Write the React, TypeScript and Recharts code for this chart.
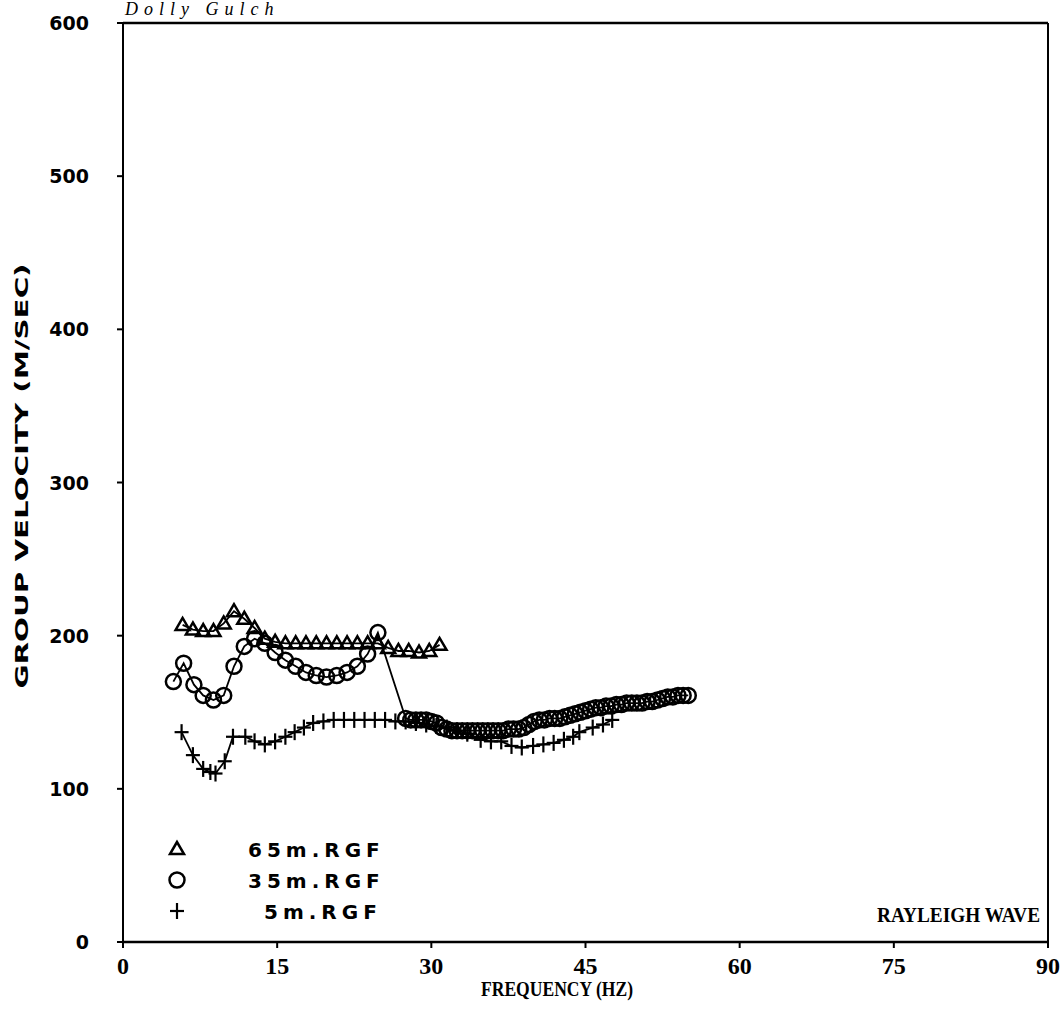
import React from "react";
import { ComposedChart, Scatter, XAxis, YAxis, ReferenceLine } from "recharts";

// 65m.RGF (triangles)
const FREQ_65 = [5.8, 6.8, 7.8, 8.8, 9.8, 10.8, 11.8, 12.8, 13.8, 14.8, 15.8, 16.8, 17.8, 18.8, 19.8, 20.8, 21.8, 22.8, 23.8, 24.8, 25.8, 26.8, 27.8, 28.8, 29.8, 30.8];
const VEL_65 = [207, 204, 203, 203, 208, 216, 211, 205, 198, 196, 195, 195, 195, 195, 195, 195, 195, 195, 195, 195, 192, 190, 190, 189, 190, 194];

// 35m.RGF (circles)
const FREQ_35 = [4.9, 5.9, 6.9, 7.8, 8.8, 9.8, 10.8, 11.8, 12.8, 13.8, 14.8, 15.8, 16.8, 17.8, 18.8, 19.8, 20.8, 21.8, 22.8, 23.8, 24.8,
  27.5, 28, 28.5, 29, 29.5, 30, 30.5, 31, 31.5, 32, 32.5, 33, 33.5, 34, 34.5, 35, 35.5, 36, 36.5, 37, 37.5, 38, 38.5, 39, 39.5,
  40, 40.5, 41, 41.5, 42, 42.5, 43, 43.5, 44, 44.5, 45, 45.5, 46, 46.5, 47, 47.5, 48, 48.5, 49, 49.5, 50, 50.5, 51, 51.5, 52, 52.5, 53, 53.5, 54, 54.5, 55];
const VEL_35 = [170, 182, 168, 161, 158, 161, 180, 193, 198, 195, 189, 184, 180, 176, 174, 173, 174, 176, 180, 188, 202,
  146, 145, 145, 145, 145, 144, 143, 140, 139, 138, 138, 138, 138, 138, 138, 138, 138, 138, 138, 138, 139, 139, 139, 140, 142,
  144, 145, 145, 146, 146, 146, 147, 148, 149, 150, 151, 152, 153, 153, 154, 154, 155, 155, 156, 156, 156, 156, 157, 157, 158, 159, 160, 160, 161, 161, 161];

// 5m.RGF (plus)
const FREQ_5 = [5.7, 6.8, 7.8, 8.5, 9, 9.9, 10.7, 11.9, 12.8, 13.8, 14.8, 15.8, 16.7, 17.6, 18.5, 19.5, 20.5, 21.5, 22.5, 23.5, 24.5, 25.5, 26.5, 27.5,
  28.5, 29.5, 30.5, 31.5, 32.5, 33.5, 34.8, 35.8, 36.8, 37.8, 38.8, 39.9, 40.9, 41.9, 42.9, 43.8, 44.4, 45.7, 46.7, 47.6];
const VEL_5 = [137, 122, 113, 111, 110, 118, 134, 134, 131, 129, 131, 134, 137, 140, 143, 144, 145, 145, 145, 145, 145, 145, 144, 144,
  143, 142, 141, 140, 138, 136, 132, 131, 131, 128, 127, 128, 129, 130, 132, 134, 137, 140, 142, 145];

const X_TICKS = [0, 15, 30, 45, 60, 75, 90];
const Y_TICKS = [0, 100, 200, 300, 400, 500, 600];
const SERIES_NAMES = ["65m.RGF", "35m.RGF", "5m.RGF"];

const toPoints = (fs: number[], vs: number[]) => fs.map((f, i) => ({ f, v: vs[i] }));
const data65 = toPoints(FREQ_65, VEL_65);
const data35 = toPoints(FREQ_35, VEL_35);
const data5 = toPoints(FREQ_5, VEL_5);

const Tri = (p: any) => {
  const { cx, cy } = p;
  if (cx == null || cy == null) return null;
  return <polygon points={`${cx},${cy - 7} ${cx - 7},${cy + 5} ${cx + 7},${cy + 5}`} fill="none" stroke="#000" strokeWidth={2.5} />;
};
const Circ = (p: any) => {
  const { cx, cy } = p;
  if (cx == null || cy == null) return null;
  return <circle cx={cx} cy={cy} r={7.5} fill="none" stroke="#000" strokeWidth={2.5} />;
};
const Plus = (p: any) => {
  const { cx, cy } = p;
  if (cx == null || cy == null) return null;
  return (
    <g stroke="#000" strokeWidth={2.2}>
      <line x1={cx - 7} y1={cy} x2={cx + 7} y2={cy} />
      <line x1={cx} y1={cy - 8} x2={cx} y2={cy + 8} />
    </g>
  );
};

const YTick = (p: any) => {
  const { x, y, payload } = p;
  return (
    <text x={x} y={y} dy={7} textAnchor="end" fontFamily="DejaVu Sans" fontWeight="bold" fontSize={19} fill="#000">
      {payload.value}
    </text>
  );
};
const XTick = (p: any) => {
  const { x, y, payload } = p;
  return (
    <text x={x} y={y} dy={18} textAnchor="middle" fontFamily="Liberation Serif" fontWeight="bold" fontSize={24} fill="#000">
      {payload.value}
    </text>
  );
};

export default function App() {
  const W = 1064;
  const H = 1015;
  return (
    <div style={{ position: "absolute", left: 0, top: 0, width: W, height: H, background: "#fff" }}>
      <ComposedChart width={W} height={H} margin={{ top: 23, right: 16, bottom: 0, left: 0 }}>
        <XAxis
          dataKey="f"
          type="number"
          domain={[0, 90]}
          ticks={X_TICKS}
          interval={0}
          allowDataOverflow
          height={73}
          tickSize={6}
          tickMargin={8}
          tick={<XTick />}
          axisLine={{ stroke: "#000", strokeWidth: 2.5 }}
          tickLine={{ stroke: "#000", strokeWidth: 2 }}
        />
        <YAxis
          dataKey="v"
          type="number"
          domain={[0, 600]}
          ticks={Y_TICKS}
          interval={0}
          allowDataOverflow
          width={123}
          tickSize={6}
          tickMargin={28}
          tick={<YTick />}
          axisLine={{ stroke: "#000", strokeWidth: 2 }}
          tickLine={{ stroke: "#000", strokeWidth: 2 }}
        />
        <ReferenceLine y={600} stroke="#000" strokeWidth={2.5} ifOverflow="visible" />
        <ReferenceLine x={90} stroke="#000" strokeWidth={2} ifOverflow="visible" />
        <Scatter name={SERIES_NAMES[2]} data={data5} shape={<Plus />} line={{ stroke: "#000", strokeWidth: 1.8 }} isAnimationActive={false} />
        <Scatter name={SERIES_NAMES[1]} data={data35} shape={<Circ />} line={{ stroke: "#000", strokeWidth: 1.8 }} isAnimationActive={false} />
        <Scatter name={SERIES_NAMES[0]} data={data65} shape={<Tri />} line={{ stroke: "#000", strokeWidth: 1.8 }} isAnimationActive={false} />
      </ComposedChart>
      <svg width={W} height={H} style={{ position: "absolute", left: 0, top: 0, pointerEvents: "none" }}>
        <text x={125} y={15} fontFamily="Liberation Serif" fontStyle="italic" fontSize={18} letterSpacing={6} fill="#000">
          Dolly Gulch
        </text>
        <text
          transform="translate(28,476) rotate(-90)"
          textAnchor="middle"
          fontFamily="DejaVu Sans"
          fontWeight="bold"
          fontSize={18}
          textLength={425}
          lengthAdjust="spacingAndGlyphs"
          fill="#000"
        >
          GROUP VELOCITY (M/SEC)
        </text>
        <text x={557} y={996} textAnchor="middle" fontFamily="Liberation Serif" fontWeight="bold" fontSize={21} textLength={152} lengthAdjust="spacingAndGlyphs" fill="#000">
          FREQUENCY (HZ)
        </text>
        <text x={1040} y={922} textAnchor="end" fontFamily="Liberation Serif" fontWeight="bold" fontSize={20} textLength={163} lengthAdjust="spacingAndGlyphs" fill="#000">
          RAYLEIGH WAVE
        </text>
        <Tri cx={177} cy={849} />
        <Circ cx={177} cy={880} />
        <Plus cx={177} cy={911} />
        {SERIES_NAMES.map((n, i) => (
          <text key={n} x={i === 2 ? 264 : 248} y={857 + i * 31} fontFamily="DejaVu Sans" fontWeight="bold" fontSize={20} letterSpacing={5} fill="#000">
            {n}
          </text>
        ))}
      </svg>
    </div>
  );
}
